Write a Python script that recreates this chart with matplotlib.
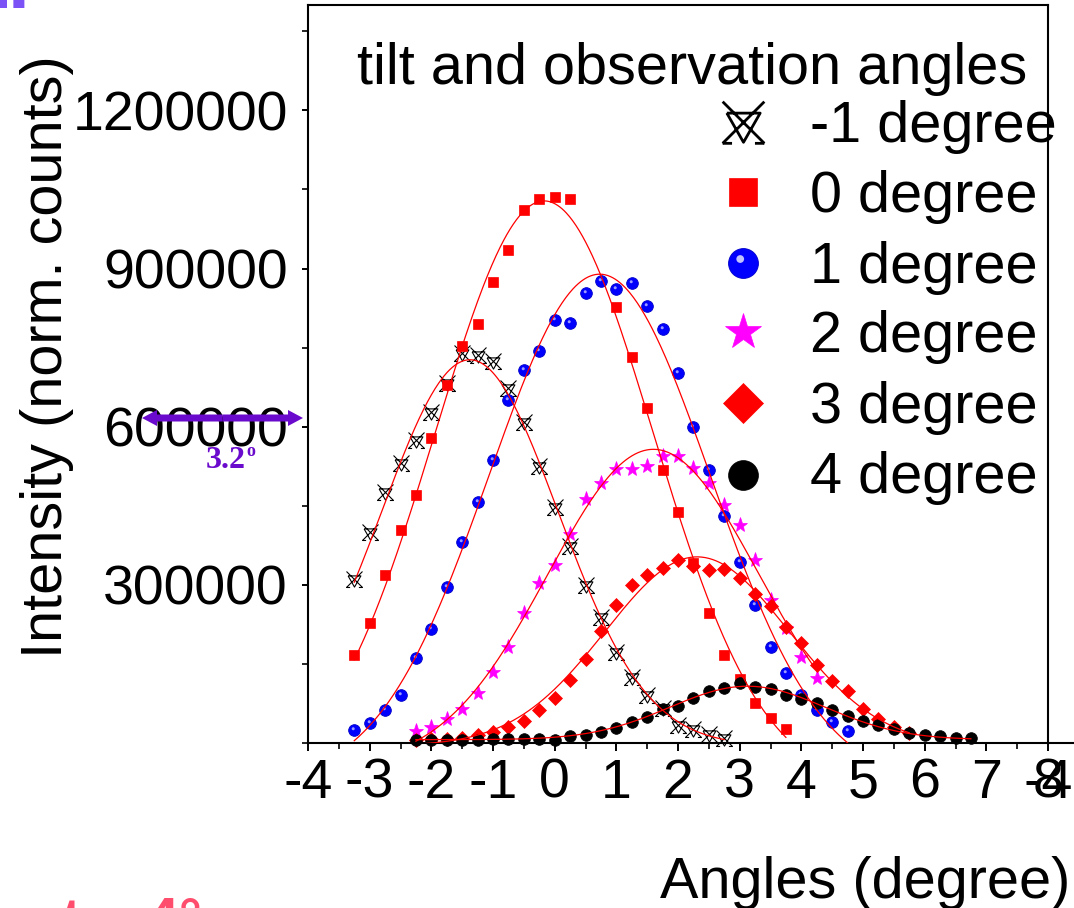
import numpy as np
import matplotlib
matplotlib.use("Agg")
import matplotlib.pyplot as plt
import matplotlib.transforms as mtransforms
from matplotlib.path import Path
from matplotlib.lines import Line2D
from matplotlib.patches import FancyArrow
from matplotlib.ticker import MultipleLocator, FuncFormatter

plt.rcParams["font.family"] = ["Liberation Sans", "DejaVu Sans"]
plt.rcParams["axes.unicode_minus"] = False

# ---------------------------------------------------------------- data
angles_m1 = [-3.25, -3.0, -2.75, -2.5, -2.25, -2.0, -1.75, -1.5, -1.25, -1.0,
             -0.75, -0.5, -0.25, 0.0, 0.25, 0.5, 0.75, 1.0, 1.25, 1.5,
             1.75, 2.0, 2.25, 2.5, 2.75]
counts_m1 = [311000, 401000, 477000, 532000, 574000, 627000, 682000, 739000, 736000, 724000,
             673000, 608000, 526000, 447000, 373000, 300000, 239000, 173000, 125000, 91000,
             66000, 34000, 26000, 17000, 9000]

angles_0 = [-3.25, -3.0, -2.75, -2.5, -2.25, -2.0, -1.75, -1.5, -1.25, -1.0,
            -0.75, -0.5, -0.25, 0.0, 0.25, 1.0, 1.25, 1.5, 1.75, 2.0,
            2.25, 2.5, 2.75, 3.0, 3.25, 3.5, 3.75]
counts_0 = [167000, 227000, 319000, 405000, 471000, 579000, 680000, 753000, 795000, 874000,
            935000, 1012000, 1032000, 1036000, 1032000, 828000, 733000, 635000, 517000, 438000,
            342000, 246000, 167000, 121000, 76000, 48000, 27000]

angles_1 = [-3.25, -3.0, -2.75, -2.5, -2.25, -2.0, -1.75, -1.5, -1.25, -1.0,
            -0.75, -0.5, -0.25, 0.0, 0.25, 0.5, 0.75, 1.0, 1.25, 1.5,
            1.75, 2.0, 2.25, 2.5, 2.75, 3.0, 3.25, 3.5, 3.75, 4.0,
            4.25, 4.5, 4.75]
counts_1 = [25500, 38000, 62000, 92000, 162000, 216000, 295000, 382000, 458000, 536000,
            651000, 708000, 744000, 803000, 796000, 853000, 877000, 861000, 872000, 829000,
            785000, 701000, 600000, 517000, 430000, 344000, 262000, 183000, 133000, 92000,
            62000, 40000, 23000]

angles_2 = [-2.25, -2.0, -1.75, -1.5, -1.25, -1.0, -0.75, -0.5, -0.25, 0.0,
            0.25, 0.5, 0.75, 1.0, 1.25, 1.5, 1.75, 2.0, 2.25, 2.5,
            2.75, 3.0, 3.25, 3.5, 3.75, 4.0, 4.25]
counts_2 = [22000, 30000, 45000, 64000, 94000, 135000, 182000, 246000, 304000, 338000,
            396000, 462000, 494000, 520000, 520000, 526000, 545000, 545000, 522000, 494000,
            452000, 414000, 348000, 272000, 218000, 164000, 123000]

angles_3 = [-2.25, -2.0, -1.75, -1.5, -1.25, -1.0, -0.75, -0.5, -0.25, 0.0,
            0.25, 0.5, 0.75, 1.0, 1.25, 1.5, 1.75, 2.0, 2.25, 2.5,
            2.75, 3.0, 3.25, 3.5, 3.75, 4.0, 4.25, 4.5, 4.75, 5.0,
            5.25, 5.5, 5.75]
counts_3 = [6500, 8400, 8400, 10300, 14600, 21000, 30000, 42000, 62000, 84500,
            119000, 159000, 213000, 262000, 300000, 319000, 332000, 348000, 336000, 328000,
            330000, 313000, 283000, 260000, 221000, 190000, 148000, 118000, 99000, 65000,
            46000, 30000, 19000]

angles_4 = [-2.25, -2.0, -1.75, -1.5, -1.25, -1.0, -0.75, -0.5, -0.25, 0.0,
            0.25, 0.5, 0.75, 1.0, 1.25, 1.5, 1.75, 2.0, 2.25, 2.5,
            2.75, 3.0, 3.25, 3.5, 3.75, 4.0, 4.25, 4.5, 4.75, 5.0,
            5.25, 5.5, 5.75, 6.0, 6.25, 6.5, 6.75]
counts_4 = [5100, 6500, 6500, 6500, 6500, 8400, 7600, 7600, 7600, 6500,
            12700, 14600, 21000, 29000, 40000, 49500, 65000, 71000, 86000, 98000,
            103500, 113000, 106500, 101600, 92000, 82600, 75000, 63500, 50800, 41900,
            33700, 27400, 19000, 14600, 12700, 10300, 10300]

series_labels = ["-1 degree", "0 degree", "1 degree", "2 degree", "3 degree", "4 degree"]
legend_title = "tilt and observation angles"
x_ticks = [-4, -3, -2, -1, 0, 1, 2, 3, 4, 5, 6, 7, 8]
y_ticks = [300000, 600000, 900000, 1200000]

# ---------------------------------------------------------------- markers
# crossed triangle symbol
cross_tri = Path(
    [(-1, 1), (1, -1), (-1, -1), (1, 1),
     (-0.8, 0.45), (0.8, 0.45), (0.0, -0.95), (-0.8, 0.45),
     (-1, -1), (-0.55, -1), (0.55, -1), (1, -1)],
    [Path.MOVETO, Path.LINETO, Path.MOVETO, Path.LINETO,
     Path.MOVETO, Path.LINETO, Path.LINETO, Path.LINETO,
     Path.MOVETO, Path.LINETO, Path.MOVETO, Path.LINETO])

# specular spot for the shaded sphere symbol (corner points fix the scale)
spot = Path.make_compound_path(
    Path([(-1, -1), (1, 1)], [Path.MOVETO, Path.MOVETO]),
    Path.circle(center=(-0.22, 0.3), radius=0.26))


def gauss_fit(x, y):
    """Least-squares Gaussian with constant offset: y0 + A*exp(-(x-c)^2/2s^2)."""
    x = np.asarray(x, float)
    y = np.asarray(y, float)
    centers = np.linspace(x.min(), x.max(), 401)
    widths = np.linspace(0.3, 4.5, 421)
    best_sse, best = np.inf, None
    ym = y.mean()
    for c in centers:
        G = np.exp(-(x[None, :] - c) ** 2 / (2 * widths[:, None] ** 2))
        gm = G.mean(axis=1)
        gc = G - gm[:, None]
        A = (gc @ (y - ym)) / np.maximum((gc ** 2).sum(axis=1), 1e-12)
        y0 = ym - A * gm
        sse = ((A[:, None] * G + y0[:, None] - y) ** 2).sum(axis=1)
        i = int(sse.argmin())
        if sse[i] < best_sse:
            best_sse, best = sse[i], (c, widths[i], A[i], y0[i])
    return best


W, H = 1074, 908
fig = plt.figure(figsize=(W / 100, H / 100), dpi=100)
fig.patch.set_facecolor("white")
ax = fig.add_axes([308 / W, 1 - 743 / H, (1048 - 308) / W, (743 - 5) / H])

FS_TICK = 40
FS = 41.5

styles = [
    dict(marker=cross_tri, ms=11.5, mfc="none", mec="black", mew=0.8),
    dict(marker="s", ms=7.8, mfc="#ff0000", mec="#ff0000", mew=0.5),
    dict(marker="o", ms=8.4, mfc="#0000ff", mec="#0000c8", mew=0.6),
    dict(marker="*", ms=11, mfc="#ff00ff", mec="#ff00ff", mew=0.5),
    dict(marker="D", ms=7.5, mfc="#ff0000", mec="#ff0000", mew=0.5),
    dict(marker="o", ms=8.4, mfc="#000000", mec="#000000", mew=0.5),
]
datasets = [(angles_m1, counts_m1), (angles_0, counts_0), (angles_1, counts_1),
            (angles_2, counts_2), (angles_3, counts_3), (angles_4, counts_4)]

for k, ((xa, ya), st) in enumerate(zip(datasets, styles)):
    ax.plot(xa, ya, linestyle="none", clip_on=False, zorder=2 + 0.1 * k, **st)
    if k == 2:
        ax.plot(xa, ya, linestyle="none", marker=spot, ms=st["ms"], mfc="#b8b8ff",
                mec="none", alpha=0.85, clip_on=False, zorder=2 + 0.1 * k + 0.01)
    c, s, A, y0 = gauss_fit(xa, ya)
    xf = np.linspace(min(xa), max(xa), 400)
    ax.plot(xf, y0 + A * np.exp(-(xf - c) ** 2 / (2 * s ** 2)),
            color="#ff0000", lw=0.9, zorder=3)

ax.set_xlim(-4, 8)
ax.set_ylim(0, 1400000)
ax.set_xticks(x_ticks)
ax.xaxis.set_minor_locator(MultipleLocator(0.5))
ax.set_yticks(y_ticks)
ax.yaxis.set_minor_locator(MultipleLocator(150000))
ax.yaxis.set_major_formatter(FuncFormatter(lambda v, p: f"{v:.0f}"))
ax.xaxis.set_major_formatter(FuncFormatter(lambda v, p: f"{v:.0f}"))
ax.tick_params(axis="x", which="major", direction="out", length=6, width=1.4,
               labelsize=FS_TICK, pad=4.5)
ax.tick_params(axis="x", which="minor", direction="out", length=4, width=1.2)
ax.tick_params(axis="y", which="major", direction="out", length=4.5, width=1.4,
               labelsize=FS_TICK, pad=10)
ax.tick_params(axis="y", which="minor", direction="out", length=4.5, width=1.2)
for sp in ax.spines.values():
    sp.set_linewidth(1.5)

# overlapping label at the right end of the angle axis
ax.annotate("-4", xy=(8, 0), xycoords=("data", "axes fraction"),
            xytext=(0, -10.5), textcoords="offset points",
            ha="center", va="top", fontsize=FS_TICK)
# neighbouring axis line continuing to the right
fig.add_artist(Line2D([1048 / W, 1.0], [1 - 743 / H] * 2, color="black", lw=1.5))


def fxy(px, py):
    return px / W, 1 - py / H


# axis titles
fig.text(*fxy(47, 357), "Intensity (norm. counts)", rotation=90,
         ha="center", va="center", fontsize=FS)
fig.text(*fxy(660, 898), "Angles (degree)", ha="left", va="baseline", fontsize=FS)

# legend
fig.text(*fxy(357, 84), legend_title, ha="left", va="baseline", fontsize=FS)
leg_marker_y = [122, 192, 263, 332, 403, 475]
leg_text_y = [142, 212, 283, 352, 423, 493]
leg_ms = [30, 20, 21.5, 27, 20, 21.5]
for k, st in enumerate(styles):
    st2 = dict(st)
    st2["ms"] = leg_ms[k]
    st2["mew"] = 2.0 if k == 0 else st["mew"]
    mx, my = fxy(743, leg_marker_y[k])
    fig.add_artist(Line2D([mx], [my], linestyle="none", transform=fig.transFigure, **st2))
    if k == 2:
        fig.add_artist(Line2D([mx], [my], linestyle="none", marker=spot, ms=leg_ms[k],
                              mfc="#d8d8ff", mec="none", alpha=0.9,
                              transform=fig.transFigure))
    fig.text(*fxy(810, leg_text_y[k]), series_labels[k], ha="left",
             va="baseline", fontsize=FS)

# double-headed arrow marking the angular shift
purple = "#6a0acc"
ident = mtransforms.IdentityTransform()
ay = H - 418
mid = (142 + 303) / 2
for tip in (303, 142):
    fig.add_artist(FancyArrow(mid, ay, tip - mid, 0, width=7, head_width=16,
                              head_length=15, length_includes_head=True,
                              color=purple, lw=0, transform=ident))
fig.text(*fxy(206, 468), "3.2", ha="left", va="baseline", fontsize=23,
         fontweight="bold", color=purple, family="Liberation Serif")
fig.text(*fxy(246, 456), "o", ha="left", va="baseline", fontsize=13,
         fontweight="bold", color=purple, family="Liberation Serif")

# neighbouring panel labels at the edges
fig.text(*fxy(30, 8), "1.", ha="right", va="baseline", fontsize=56,
         fontweight="bold", color="#7b52f5")
fig.text(*fxy(62, 938), "t = 4°", ha="left", va="baseline", fontsize=FS,
         fontweight="bold", color="#ff4d6d")

fig.savefig("out.png", dpi=100, facecolor="white")
